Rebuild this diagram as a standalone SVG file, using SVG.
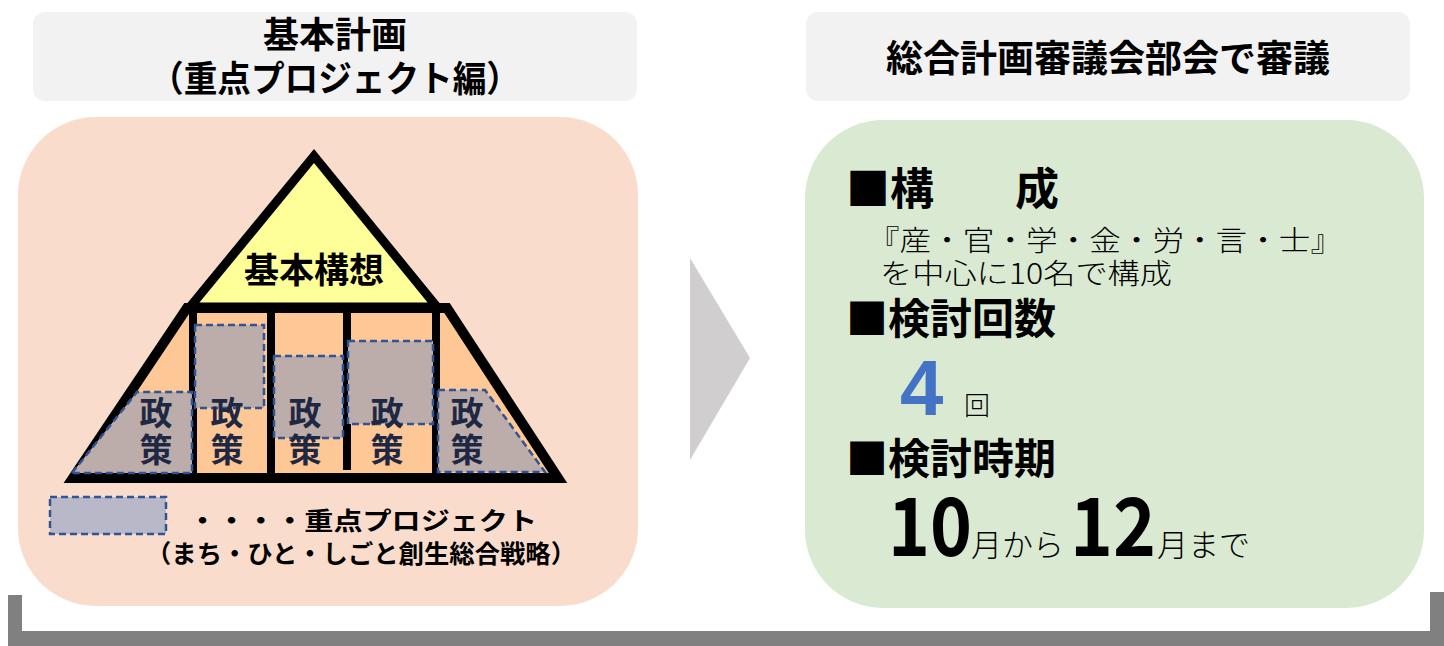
<svg xmlns="http://www.w3.org/2000/svg" width="1444" height="646" viewBox="0 0 1444 646">
<style>
.t{font-family:"Noto Sans CJK JP","Noto Sans",sans-serif;}
.b{font-weight:700;}
.l{font-weight:300;}
.hdr{fill:#f2f2f2;}
.proj{fill:#bcadaa;stroke:#2f5597;stroke-width:2.5;stroke-dasharray:7 4;}
.pol{fill:#1e2843;font-size:33px;font-weight:700;writing-mode:vertical-rl;letter-spacing:4px;}
</style>
<rect width="1444" height="646" fill="#ffffff"/>
<g id="header-left">
<rect class="hdr" x="33" y="12" width="604" height="89" rx="12"/>
<text class="t b" x="335" y="48" font-size="36" text-anchor="middle">基本計画</text>
<text class="t b" x="335" y="92" font-size="36" text-anchor="middle" textLength="370" lengthAdjust="spacingAndGlyphs">（重点プロジェクト編）</text>
</g>
<g id="header-right">
<rect class="hdr" x="806" y="12" width="604" height="89" rx="12"/>
<text class="t b" x="1108" y="72" font-size="37" text-anchor="middle">総合計画審議会部会で審議</text>
</g>
<g id="left-panel">
<rect x="18" y="117" width="620" height="489" rx="78" fill="#f9dccb"/>
<polygon points="187,307 447,307 558,478 73,478" fill="#fec896"/>
<polygon points="314,156 437,307 190,307" fill="#ffff99" stroke="#000" stroke-width="9" stroke-linejoin="miter"/>
<polygon points="187,308 447,308 558,478 73,478" fill="none" stroke="#000" stroke-width="10" stroke-linejoin="miter"/>
<g stroke="#000" stroke-width="8">
<line x1="193" y1="304" x2="193" y2="476"/>
<line x1="271" y1="304" x2="271" y2="476"/>
<line x1="347" y1="304" x2="347" y2="470"/>
<line x1="436" y1="304" x2="436" y2="476"/>
</g>
<g id="projects">
<polygon class="proj" points="72,473 137,392 192,392 192,473"/>
<rect class="proj" x="195" y="325" width="69" height="83"/>
<rect class="proj" x="274" y="356" width="69" height="82"/>
<rect class="proj" x="348" y="341" width="85" height="83"/>
<polygon class="proj" points="438,390 485,390 545,472 438,472"/>
</g>
<text class="t b" x="314" y="283" font-size="35" text-anchor="middle">基本構想</text>
<g class="t">
<text class="pol" x="156" y="396">政策</text>
<text class="pol" x="227" y="396">政策</text>
<text class="pol" x="305" y="396">政策</text>
<text class="pol" x="387" y="396">政策</text>
<text class="pol" x="467" y="396">政策</text>
</g>
<g id="legend">
<rect x="50" y="497" width="116" height="37" fill="#b9b8c9" stroke="#2f5597" stroke-width="2.5" stroke-dasharray="7 4"/>
<text class="t b" x="188" y="530" font-size="25" textLength="349" lengthAdjust="spacingAndGlyphs">・・・・重点プロジェクト</text>
<text class="t b" x="146" y="563" font-size="25" textLength="430" lengthAdjust="spacingAndGlyphs">（まち・ひと・しごと創生総合戦略）</text>
</g>
</g>
<g id="arrow">
<polygon points="690,258 750,358 690,460" fill="#d0cece"/>
</g>
<g id="right-panel">
<rect x="805" y="120" width="619" height="488" rx="78" fill="#dae9d2"/>
<text class="t b" x="846" y="205" font-size="44">■構</text>
<text class="t b" x="1015" y="205" font-size="44">成</text>
<text class="t l" x="868" y="251" font-size="28" textLength="474" lengthAdjust="spacingAndGlyphs">『産・官・学・金・労・言・士』</text>
<text class="t l" x="880" y="284" font-size="28" textLength="292" lengthAdjust="spacingAndGlyphs">を中心に10名で構成</text>
<text class="t b" x="846" y="334" font-size="42">■検討回数</text>
<text x="900" y="415" font-family="Liberation Sans, Arial, sans-serif" font-weight="700" font-size="78" fill="#4472c4">4</text>
<text class="t l" x="964" y="415" font-size="26">回</text>
<text class="t b" x="846" y="474" font-size="42">■検討時期</text>
<text class="t b" x="888" y="556" font-size="80" textLength="84" lengthAdjust="spacingAndGlyphs">10</text>
<text class="t l" x="971" y="556" font-size="31">月から</text>
<text class="t b" x="1070" y="556" font-size="80" textLength="86" lengthAdjust="spacingAndGlyphs">12</text>
<text class="t l" x="1157" y="556" font-size="31">月まで</text>
</g>
<g id="bracket" fill="#808080">
<rect x="8" y="595" width="14" height="51"/>
<rect x="8" y="631" width="1436" height="15"/>
<rect x="1430" y="592" width="14" height="54"/>
</g>
</svg>
